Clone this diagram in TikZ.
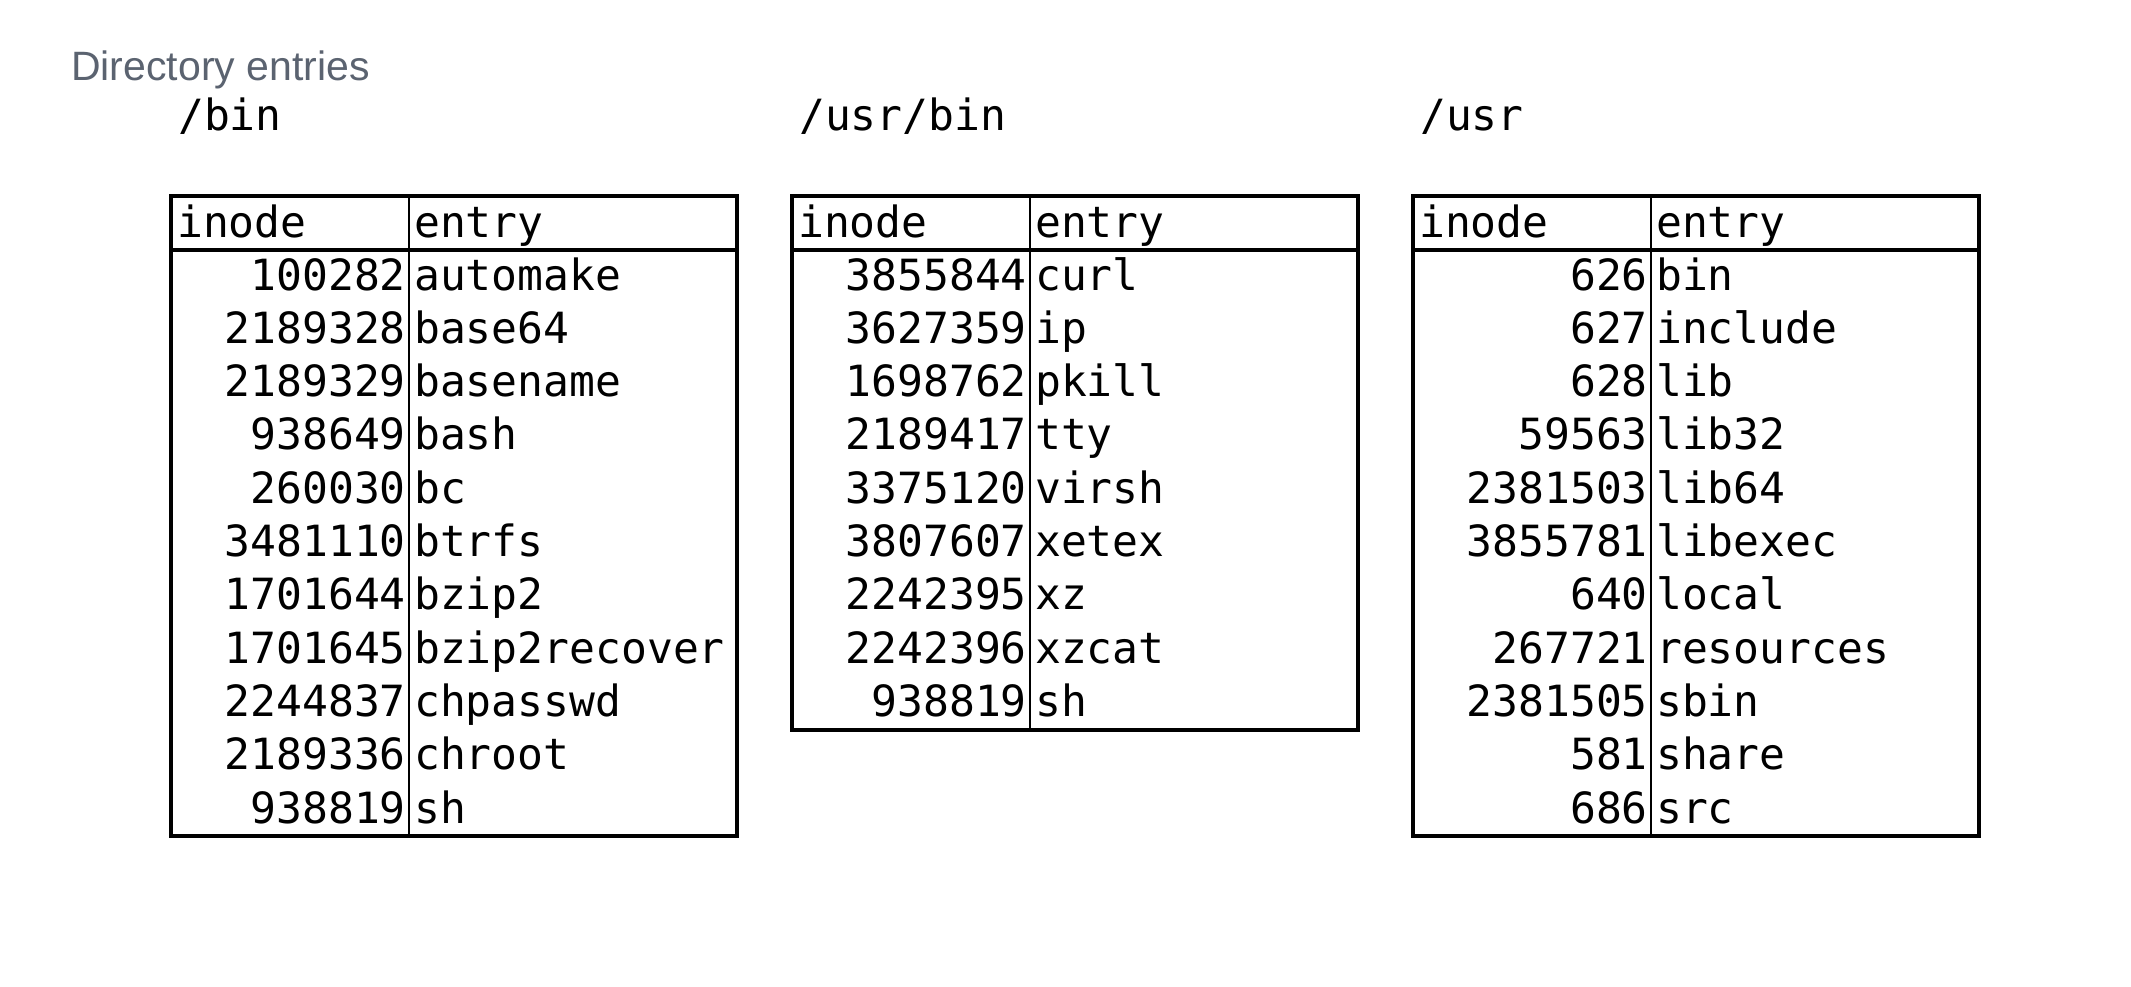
\documentclass[tikz,border=0pt]{standalone}
\usepackage{fontspec}
\setmainfont{Liberation Sans}
\newfontfamily\dirmono{DejaVu Sans Mono}
\definecolor{titlegray}{HTML}{5B6370}
\tikzset{
  cell/.style={inner sep=0pt, text=black, font=\dirmono\fontsize{43}{50}\selectfont},
  numcell/.style={cell, anchor=base east},
  entcell/.style={cell, anchor=base west},
  frameline/.style={draw=black, line width=3.2pt},
  divline/.style={draw=black, line width=2.4pt},
  headline/.style={inner sep=0pt, anchor=base west, text=titlegray, font=\fontsize{41}{48}\selectfont},
}
\newcommand\dirtab[4]{%
  \begin{scope}[xshift=#2]
    \draw[frameline] (0,196) rectangle (566,#3);
    \draw[frameline] (0,250) -- (566,250);
    \draw[divline] (238,196) -- (238,#3);
    \node[entcell] (#1-hi) at (6,237) {inode};
    \node[entcell] (#1-he) at (243,237) {entry};
    \foreach \n/\e [count=\i] in {#4} {
      \node[numcell] (#1-n\i) at (235,{290+53.3*(\i-1)}) {\n};
      \node[entcell] (#1-e\i) at (243,{290+53.3*(\i-1)}) {\e};
    }
  \end{scope}}
\begin{document}
\begin{tikzpicture}[x=1pt,y=-1pt]
  \fill[white] (0,0) rectangle (2131,986);
  \path[use as bounding box] (0,0) rectangle (2131,986);
  \node[headline] (title) at (71,80) {Directory entries};
  \node[entcell] (tbin) at (178,130) {/bin};
  \node[entcell] (tusrbin) at (799,130) {/usr/bin};
  \node[entcell] (tusr) at (1420,130) {/usr};
  \dirtab{bin}{171}{836}{100282/automake,2189328/base64,2189329/basename,938649/bash,260030/bc,3481110/btrfs,1701644/bzip2,1701645/bzip2recover,2244837/chpasswd,2189336/chroot,938819/sh}
  \dirtab{ub}{792}{730}{3855844/curl,3627359/ip,1698762/pkill,2189417/tty,3375120/virsh,3807607/xetex,2242395/xz,2242396/xzcat,938819/sh}
  \dirtab{usr}{1413}{836}{626/bin,627/include,628/lib,59563/lib32,2381503/lib64,3855781/libexec,640/local,267721/resources,2381505/sbin,581/share,686/src}
\end{tikzpicture}
\end{document}
